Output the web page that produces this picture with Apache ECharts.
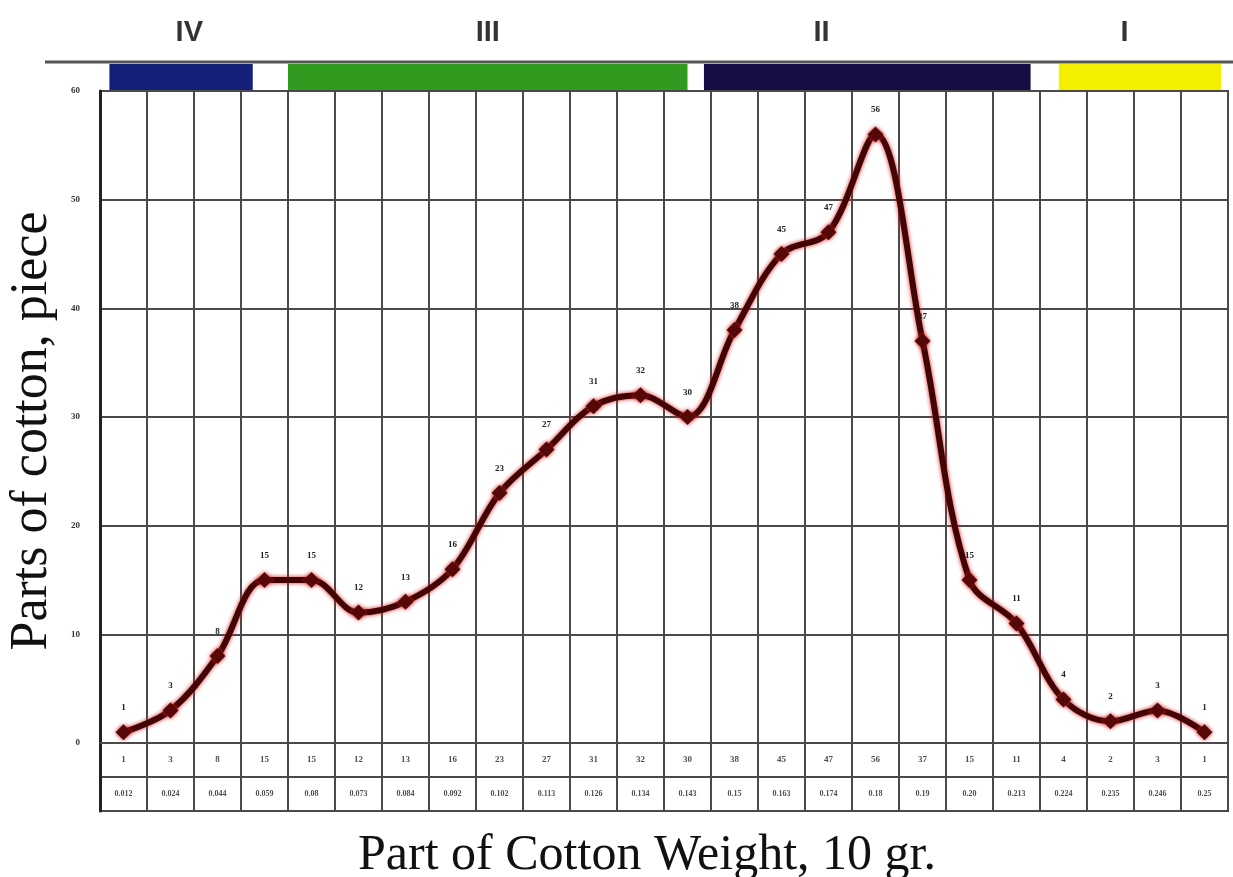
<!DOCTYPE html>
<html>
<head>
<meta charset="utf-8">
<script src="https://cdn.jsdelivr.net/npm/echarts@6/dist/echarts.min.js"></script>
<style>
  html, body { margin: 0; padding: 0; background: #fff; }
  #main { width: 1233px; height: 877px; }
</style>
</head>
<body>
<div id="main"></div>
<script>
  // pieces counted per weight class
  var counts = [1, 3, 8, 15, 15, 12, 13, 16, 23, 27, 31, 32, 30, 38, 45, 47, 56, 37, 15, 11, 4, 2, 3, 1];
  // second table row (weight)
  var weights = ['0.012', '0.024', '0.044', '0.059', '0.08', '0.073', '0.084', '0.092', '0.102', '0.113', '0.126', '0.134',
                 '0.143', '0.15', '0.163', '0.174', '0.18', '0.19', '0.20', '0.213', '0.224', '0.235', '0.246', '0.25'];
  var categories = counts.map(function (v, i) { return 'c' + i; });

  // zone bands above the chart, in column units
  var zoneNames = ['IV', 'III', 'II', 'I'];
  var zoneStart = [0.2, 4.0, 12.85, 20.4];
  var zoneEnd = [3.25, 12.5, 19.8, 23.85];
  var zoneLabelX = [1.9, 8.25, 15.35, 21.8];
  var zoneColors = ['#15207a', '#2f9a1e', '#170d45', '#f5f000'];

  var myChart = echarts.init(document.getElementById('main'));

  var gridLine = { color: '#4a4a4a', width: 2 };

  var option = {
    backgroundColor: '#fff',
    animation: false,
    grid: [
      // main plot
      { left: 100, right: 5, top: 91, height: 652, show: true, borderColor: '#444', borderWidth: 2, outerBoundsMode: 'none', containLabel: false },
      // table under the plot
      { left: 100, right: 5, top: 743, height: 68, show: true, borderColor: '#444', borderWidth: 2, outerBoundsMode: 'none', containLabel: false },
      // zone bands
      { left: 100, right: 5, top: 12, height: 78, outerBoundsMode: 'none', containLabel: false }
    ],
    xAxis: [
      {
        gridIndex: 0, type: 'category', data: categories, boundaryGap: true,
        axisLine: { show: true, lineStyle: gridLine },
        axisTick: { show: false },
        axisLabel: { show: false },
        splitLine: { show: true, interval: 0, lineStyle: gridLine }
      },
      {
        gridIndex: 1, type: 'category', data: categories, boundaryGap: true,
        axisLine: { show: false },
        axisTick: { show: false },
        axisLabel: { show: false },
        splitLine: { show: true, interval: 0, lineStyle: gridLine },
        name: 'Part of Cotton Weight, 10 gr.',
        nameLocation: 'middle',
        nameGap: 20,
        nameTextStyle: { fontFamily: 'Liberation Serif', fontSize: 50, color: '#111', padding: [0, 34, 0, 0] }
      },
      { gridIndex: 2, type: 'value', min: 0, max: 24, show: false }
    ],
    yAxis: [
      {
        gridIndex: 0, type: 'value', min: 0, max: 60, interval: 10,
        axisLine: { show: true, lineStyle: { color: '#222', width: 3 } },
        axisTick: { show: false },
        axisLabel: { fontSize: 9, fontWeight: 'bold', color: '#333', margin: 20, fontFamily: 'Liberation Serif' },
        splitLine: { show: true, lineStyle: gridLine },
        name: 'Parts of cotton, piece',
        nameLocation: 'middle',
        nameRotate: 90,
        nameGap: 42,
        nameTextStyle: { fontFamily: 'Liberation Serif', fontSize: 52, color: '#111', padding: [0, 28, 0, 0] }
      },
      {
        gridIndex: 1, type: 'value', min: 0, max: 2, interval: 1,
        axisLine: { show: true, lineStyle: { color: '#222', width: 3 } },
        axisTick: { show: false },
        axisLabel: { show: false },
        splitLine: { show: true, lineStyle: gridLine }
      },
      { gridIndex: 2, type: 'value', min: 0, max: 3, show: false }
    ],
    graphic: [
      {
        type: 'line',
        shape: { x1: 45, y1: 62, x2: 1233, y2: 62 },
        style: { stroke: '#555', lineWidth: 3 }
      }
    ],
    series: [
      {
        type: 'line',
        xAxisIndex: 0, yAxisIndex: 0,
        data: counts,
        smooth: 0.35,
        symbol: 'diamond',
        symbolSize: 16,
        lineStyle: { color: '#420404', width: 6, shadowColor: '#d02020', shadowBlur: 4 },
        itemStyle: { color: '#560808', shadowColor: '#d02020', shadowBlur: 4 },
        label: {
          show: true, position: 'top', distance: 12,
          fontSize: 9, fontWeight: 'bold', color: '#222', fontFamily: 'Liberation Serif'
        },
        z: 5
      },
      {
        // table first row: counts
        type: 'scatter',
        xAxisIndex: 1, yAxisIndex: 1,
        symbolSize: 0,
        data: counts.map(function (v, i) { return [i, 1.5, String(v)]; }),
        label: {
          show: true, position: 'inside',
          formatter: function (p) { return p.value[2]; },
          fontSize: 9, fontWeight: 'bold', color: '#222', fontFamily: 'Liberation Serif'
        }
      },
      {
        // table second row: weights
        type: 'scatter',
        xAxisIndex: 1, yAxisIndex: 1,
        symbolSize: 0,
        data: weights.map(function (v, i) { return [i, 0.5, v]; }),
        label: {
          show: true, position: 'inside',
          formatter: function (p) { return p.value[2]; },
          fontSize: 8, fontWeight: 'bold', color: '#222', fontFamily: 'Liberation Serif'
        }
      },
      {
        // zone bands
        type: 'custom',
        xAxisIndex: 2, yAxisIndex: 2,
        data: zoneStart.map(function (s, i) { return [s, zoneEnd[i], i]; }),
        renderItem: function (params, api) {
          var p0 = api.coord([api.value(0), 1]);
          var p1 = api.coord([api.value(1), 0]);
          return {
            type: 'rect',
            shape: { x: p0[0], y: p0[1], width: p1[0] - p0[0], height: p1[1] - p0[1] },
            style: { fill: zoneColors[api.value(2)] }
          };
        }
      },
      {
        // zone names
        type: 'scatter',
        xAxisIndex: 2, yAxisIndex: 2,
        symbolSize: 0,
        data: zoneLabelX.map(function (x, i) { return [x, 2.2, zoneNames[i]]; }),
        label: {
          show: true, position: 'inside',
          formatter: function (p) { return p.value[2]; },
          fontSize: 29, fontWeight: 'bold', color: '#000', fontFamily: 'Liberation Sans'
        }
      }
    ]
  };

  myChart.setOption(option);
</script>
</body>
</html>
